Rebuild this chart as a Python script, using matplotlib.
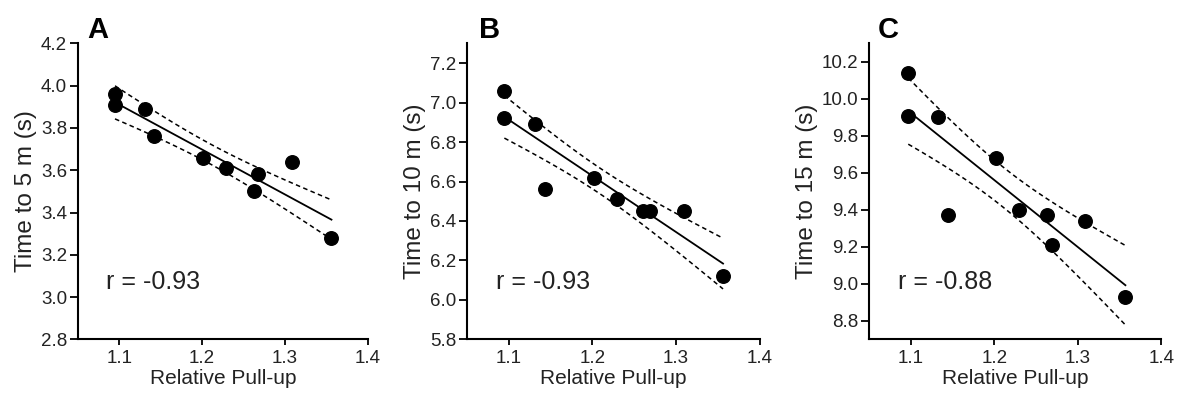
#!/usr/bin/env python3

import numpy as np
import matplotlib
matplotlib.use('Agg')
import matplotlib.pyplot as plt

plt.rcParams['font.family'] = ['Liberation Sans', 'DejaVu Sans']

# --- data (same 10 subjects)
pullup_a = [1.095, 1.095, 1.131, 1.142, 1.201, 1.229, 1.263, 1.268, 1.309, 1.356]
time_5m = [3.96, 3.91, 3.89, 3.76, 3.66, 3.61, 3.50, 3.58, 3.64, 3.28]

pullup_b = [1.095, 1.095, 1.131, 1.143, 1.202, 1.229, 1.261, 1.269, 1.309, 1.356]
time_10m = [7.06, 6.92, 6.89, 6.56, 6.62, 6.51, 6.45, 6.45, 6.45, 6.12]

pullup_c = [1.097, 1.097, 1.133, 1.144, 1.202, 1.229, 1.263, 1.269, 1.309, 1.357]
time_15m = [10.14, 9.91, 9.90, 9.37, 9.68, 9.40, 9.37, 9.21, 9.34, 8.93]

panel_letters = ['A', 'B', 'C']
y_labels = ['Time to 5 m (s)', 'Time to 10 m (s)', 'Time to 15 m (s)']
r_labels = ['r = -0.93', 'r = -0.93', 'r = -0.88']
y_limits = [(2.8, 4.2), (5.8, 7.3), (8.7, 10.3)]
y_ticks = [np.arange(2.8, 4.21, 0.2), np.arange(5.8, 7.21, 0.2), np.arange(8.8, 10.21, 0.2)]
x_ticks = [1.1, 1.2, 1.3, 1.4]

T_CRIT = 1.86  # t(0.95, df=8) -> 90% band, closest to the drawn bands

fig = plt.figure(figsize=(11.82, 3.94), dpi=100)
axes_pos = [(0.0657, 0.1388, 0.2456, 0.751),
            (0.3948, 0.1388, 0.2481, 0.751),
            (0.7352, 0.1388, 0.2473, 0.751)]
letter_x = [0.032, 0.042, 0.031]

datasets = [(pullup_a, time_5m), (pullup_b, time_10m), (pullup_c, time_15m)]

for i, (xs, ys) in enumerate(datasets):
    ax = fig.add_axes(axes_pos[i])
    x = np.array(xs)
    y = np.array(ys)

    # linear fit + confidence band of the mean
    m, b = np.polyfit(x, y, 1)
    xf = np.linspace(x.min(), x.max(), 100)
    yf = m * xf + b
    n = len(x)
    resid = y - (m * x + b)
    s = np.sqrt(np.sum(resid ** 2) / (n - 2))
    sxx = np.sum((x - x.mean()) ** 2)
    half = T_CRIT * s * np.sqrt(1.0 / n + (xf - x.mean()) ** 2 / sxx)

    ax.plot(xf, yf, color='black', lw=1.3)
    ax.plot(xf, yf + half, color='black', lw=1.1, ls=(0, (3, 2.2)))
    ax.plot(xf, yf - half, color='black', lw=1.1, ls=(0, (3, 2.2)))
    ax.scatter(x, y, s=95, color='black', zorder=3, clip_on=False)

    ax.set_xlim(1.05, 1.4)
    ax.set_ylim(*y_limits[i])
    ax.set_xticks(x_ticks)
    ax.set_xticklabels(['1.1', '1.2', '1.3', '1.4'])
    ax.set_yticks(y_ticks[i])
    ax.set_yticklabels(['%.1f' % v for v in y_ticks[i]])

    for side in ['top', 'right']:
        ax.spines[side].set_visible(False)
    for side in ['left', 'bottom']:
        ax.spines[side].set_linewidth(1.5)
    ax.tick_params(axis='both', direction='out', width=1.3,
                   labelsize=13.5, colors='black', labelcolor='#222222')
    ax.tick_params(axis='y', length=6, pad=1.5)
    ax.tick_params(axis='x', length=4.5, pad=3.5)

    ax.set_xlabel('Relative Pull-up', fontsize=15, color='#222222', labelpad=1)
    ax.set_ylabel(y_labels[i], fontsize=17.5, color='#222222', labelpad=3)

    ax.text(0.099, 0.171, r_labels[i], transform=ax.transAxes, fontsize=18,
            color='#222222', ha='left', va='baseline')
    ax.text(letter_x[i], 1.02, panel_letters[i], transform=ax.transAxes,
            fontsize=21, fontweight='bold', color='black', ha='left', va='baseline')

fig.savefig('out.png', dpi=100)
